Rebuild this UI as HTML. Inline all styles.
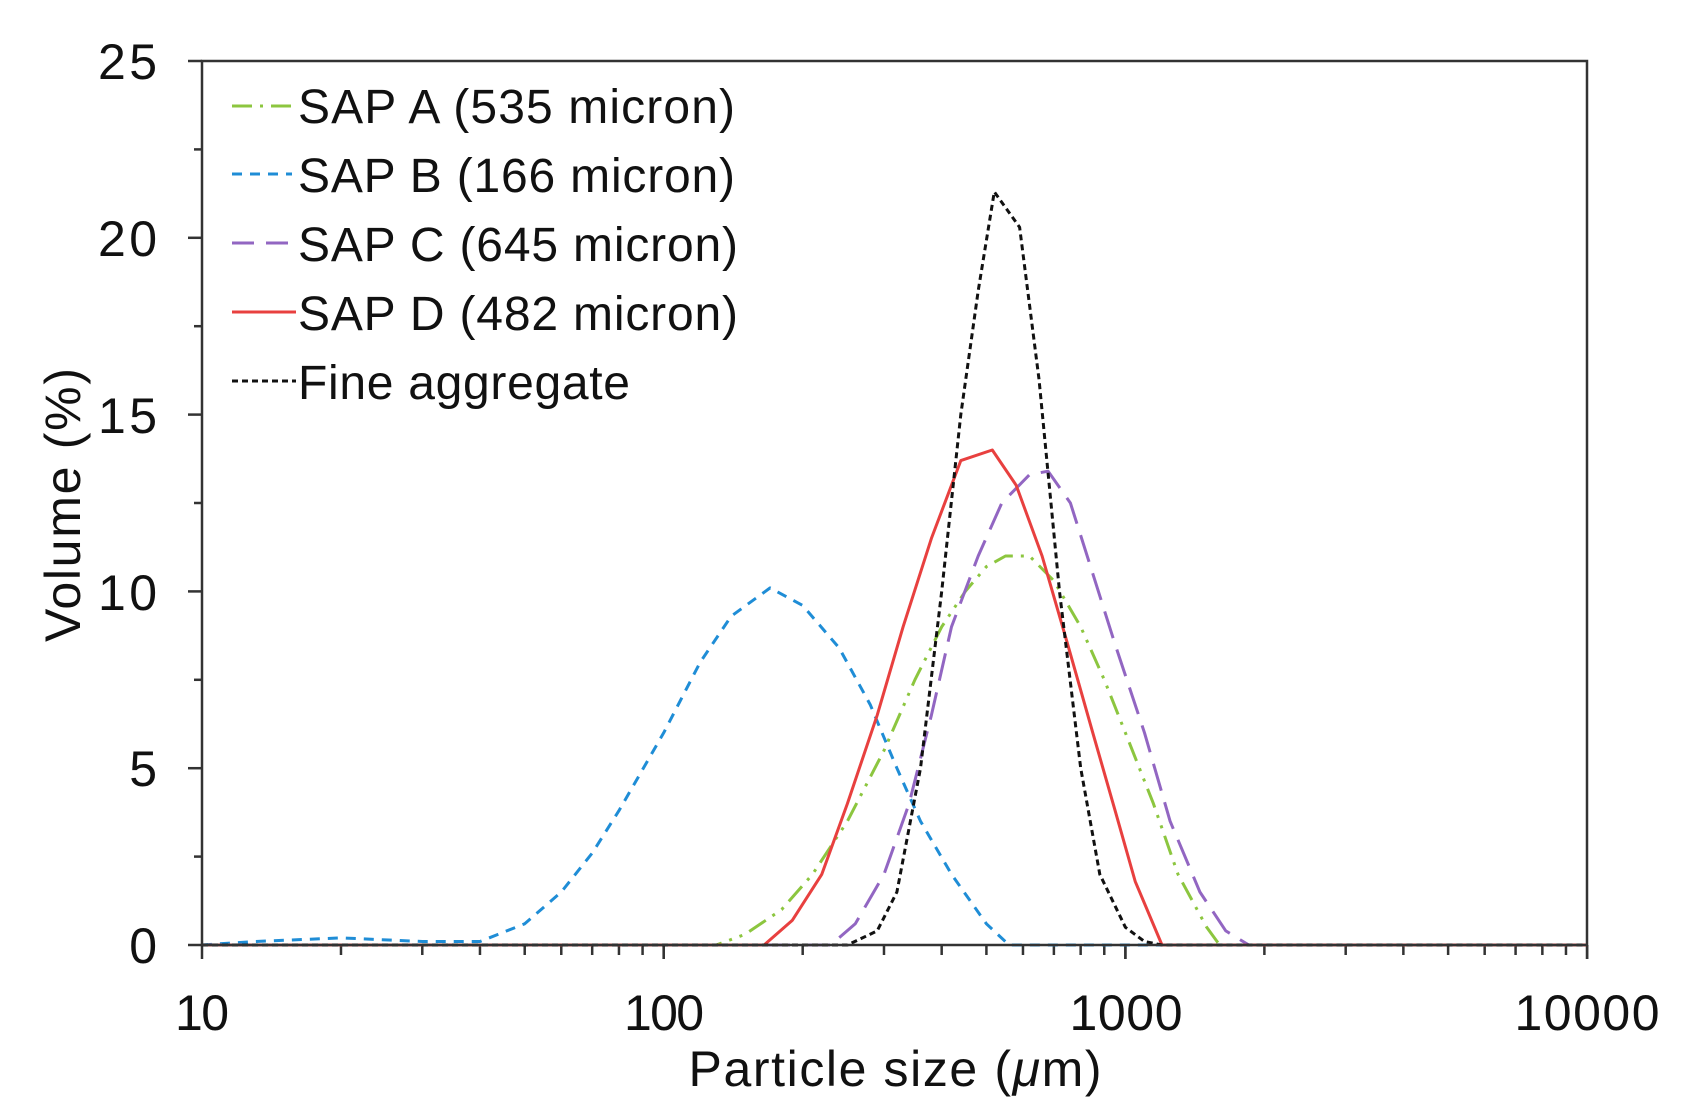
<!DOCTYPE html>
<html><head><meta charset="utf-8"><style>
html,body{margin:0;padding:0;background:#fff;}
svg{display:block;}
text{font-family:"Liberation Sans",Arial,sans-serif;fill:#111;}
</style></head><body>
<svg id="s" width="1684" height="1116" viewBox="0 0 1684 1116" xmlns="http://www.w3.org/2000/svg">
<g id="ax" stroke="#333" stroke-width="2.5" fill="none"></g>
<g id="ser" fill="none" stroke-linejoin="round"></g>
<rect x="202" y="61" width="1385" height="884" fill="none" stroke="#333" stroke-width="2.5"/>
<g font-size="50" text-anchor="end">
<text x="157" y="79" textLength="59">25</text><text x="157" y="256" textLength="59">20</text><text x="157" y="433" textLength="59">15</text>
<text x="157" y="610" textLength="59">10</text><text x="157" y="786" textLength="30">5</text><text x="157" y="963" textLength="30">0</text>
</g>
<g font-size="50" text-anchor="middle">
<text x="202" y="1030" textLength="54">10</text><text x="664" y="1030" textLength="80">100</text><text x="1126" y="1030" textLength="113">1000</text><text x="1587" y="1030" textLength="145">10000</text>
<text x="895" y="1086" textLength="413">Particle size (<tspan font-style="italic">μ</tspan>m)</text>
</g>
<text font-size="50" text-anchor="middle" textLength="274" transform="translate(80,505) rotate(-90)">Volume (%)</text>
<g font-size="48">
<text x="298" y="123" textLength="437">SAP A (535 micron)</text>
<text x="298" y="192" textLength="437">SAP B (166 micron)</text>
<text x="298" y="261" textLength="440">SAP C (645 micron)</text>
<text x="298" y="330" textLength="440">SAP D (482 micron)</text>
<text x="298" y="399" textLength="332">Fine aggregate</text>
</g>
<g stroke-width="3" fill="none">
<line x1="232" y1="106" x2="292" y2="106" stroke="#8cc63f" stroke-dasharray="20 8 3 8"/>
<line x1="232" y1="174" x2="292" y2="174" stroke="#1f8dd6" stroke-dasharray="10 8"/>
<line x1="232" y1="243" x2="296" y2="243" stroke="#9266c2" stroke-dasharray="22 12"/>
<line x1="232" y1="312" x2="296" y2="312" stroke="#e8403f"/>
<line x1="232" y1="381" x2="296" y2="381" stroke="#111" stroke-dasharray="6 4"/>
</g>
</svg>
<script>
var L=202,B=945,D=461.7,U=35.36;
function X(v){return L+(Math.log10(v)-1)*D;}
function Y(v){return B-v*U;}
var ax=document.getElementById('ax'),h='';
for(var i=0;i<=10;i++){var y=B-i*2.5*U;var len=(i%2==0)?14:8;h+='<line x1="'+(L-len)+'" y1="'+y+'" x2="'+L+'" y2="'+y+'"/>';}
for(var d=1;d<=1000;d*=10){for(var k=1;k<=10;k++){var len=(k==1||k==10)?14:10;var xx=X(10*d*k);if(10*d*k>10000)break;h+='<line x1="'+xx+'" y1="'+B+'" x2="'+xx+'" y2="'+(B+len)+'"/>';}}
ax.innerHTML=h;
var S=[
["#8cc63f","20 8 3 8 3 8",[[10,0],[130,0],[150,0.3],[180,1],[210,2],[250,3.5],[300,5.5],[350,7.5],[400,9],[450,10],[500,10.7],[550,11],[620,11],[700,10.3],[800,9],[900,7.5],[1000,6],[1150,4],[1300,2],[1500,0.5],[1600,0],[10000,0]]],
["#1f8dd6","10 8",[[10,0],[13,0.1],[20,0.2],[30,0.1],[40,0.1],[50,0.6],[60,1.5],[70,2.6],[80,3.8],[100,6],[120,8],[140,9.3],[170,10.1],[200,9.6],[240,8.4],[280,6.8],[320,5],[360,3.5],[420,2],[500,0.6],[560,0],[10000,0]]],
["#9266c2","28 12",[[10,0],[230,0],[260,0.6],[300,2],[340,4],[380,6.5],[420,9],[480,11],[540,12.5],[620,13.3],[680,13.4],[760,12.5],[850,10.5],[950,8.5],[1100,6],[1250,3.5],[1450,1.5],[1650,0.4],[1850,0],[10000,0]]],
["#e8403f","",[[10,0],[165,0],[190,0.7],[220,2],[250,4],[290,6.5],[330,9],[380,11.5],[440,13.7],[515,14],[580,13],[660,11],[750,8.5],[850,6],[950,3.8],[1050,1.8],[1200,0],[10000,0]]],
["#111","6 4",[[10,0],[250,0],[290,0.4],[320,1.5],[360,5],[400,10],[440,15],[480,18.5],[520,21.3],[590,20.3],[650,16],[720,10],[800,5],[880,2],[1000,0.5],[1100,0.1],[1200,0],[10000,0]]]
];
var g=document.getElementById('ser'),o='';
S.forEach(function(s){var p=s[2].map(function(q){return X(q[0]).toFixed(1)+','+Y(q[1]).toFixed(1);}).join(' ');
o+='<polyline points="'+p+'" stroke="'+s[0]+'" stroke-width="3"'+(s[1]?' stroke-dasharray="'+s[1]+'"':'')+'/>';});
g.innerHTML=o;
</script>
</body></html>
